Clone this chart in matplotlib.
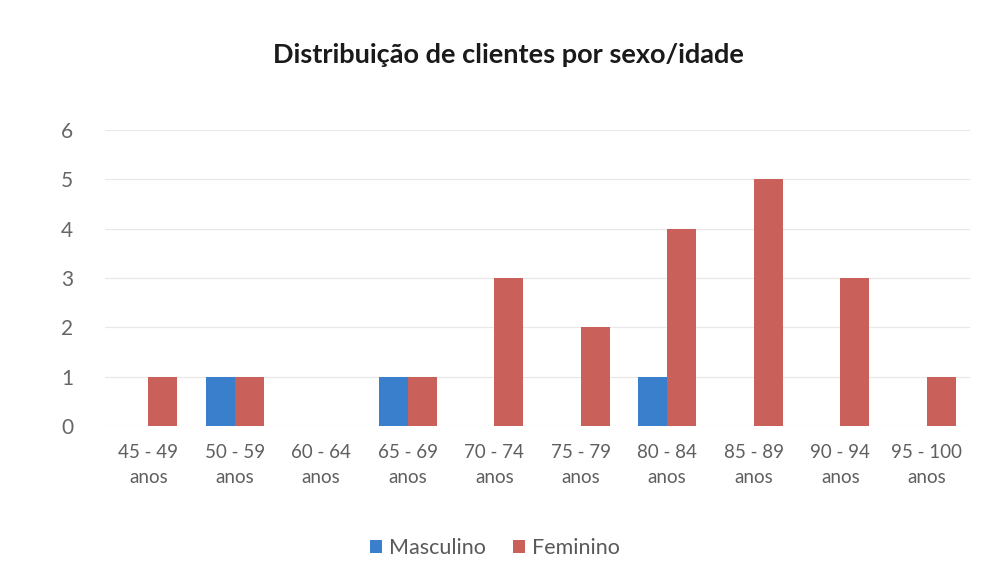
import matplotlib
matplotlib.use("Agg")
import matplotlib.pyplot as plt
import numpy as np

categories = ["45 - 49\nanos", "50 - 59\nanos", "60 - 64\nanos", "65 - 69\nanos",
              "70 - 74\nanos", "75 - 79\nanos", "80 - 84\nanos", "85 - 89\nanos",
              "90 - 94\nanos", "95 - 100\nanos"]
masculino = [0, 1, 0, 1, 0, 0, 1, 0, 0, 0]
feminino = [1, 1, 0, 1, 3, 2, 4, 5, 3, 1]
series_names = ["Masculino", "Feminino"]
colors = ["#3A7FCC", "#C9605A"]

plt.rcParams['font.family'] = ['Lato', 'DejaVu Sans']

fig = plt.figure(figsize=(9.9, 5.81), dpi=100)
ax = fig.add_axes([105/990, 1-426/581, 865/990, 296/581])

x = np.arange(len(categories))
w = 0.335
ax.bar(x - w/2, masculino, w, color=colors[0], label=series_names[0], zorder=3)
ax.bar(x + w/2, feminino, w, color=colors[1], label=series_names[1], zorder=3)

ax.set_xlim(-0.5, len(categories) - 0.5)
ax.set_ylim(0, 6)
ax.set_yticks(range(0, 7))
ax.set_xticks(x)
ax.set_xticklabels(categories, fontsize=13.5, color="#5f5f5f", linespacing=1.6)
ax.tick_params(axis='y', labelsize=15, labelcolor="#666666", length=0, pad=23)
ax.tick_params(axis='x', length=0, pad=13)
ax.grid(axis='y', color="#E8E8E8", linewidth=0.9, zorder=0)
for s in ax.spines.values():
    s.set_visible(False)

fig.text(508/990, 1-55/581, "Distribuição de clientes por sexo/idade", ha='center', va='center',
         fontsize=19.5, fontweight='bold', color="#1a1a1a")

fig.legend(loc='center', bbox_to_anchor=(0.5, 1-548/581), ncol=2, frameon=False,
           fontsize=15.5, handlelength=0.55, handleheight=0.55, handletextpad=0.3,
           columnspacing=1.3, labelcolor="#595959")

fig.savefig("out.png", dpi=100, facecolor="white")
